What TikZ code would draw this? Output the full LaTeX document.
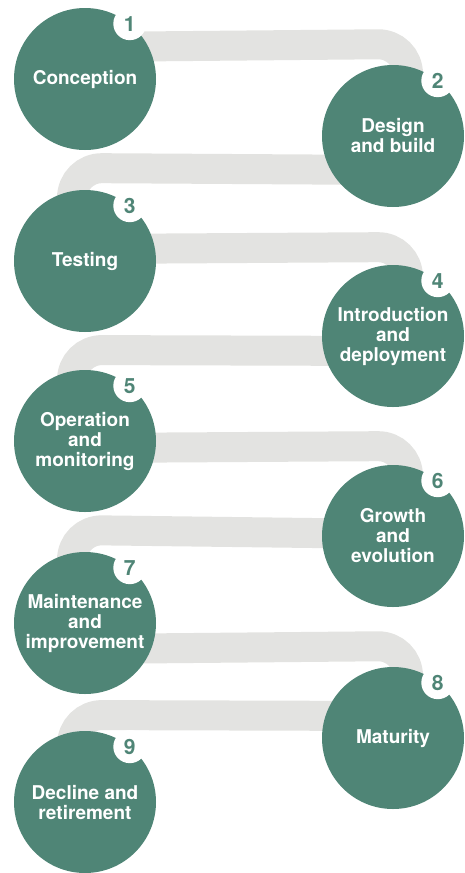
\documentclass[tikz,border=0pt]{standalone}
\usepackage{fontspec}
\setmainfont{TeX Gyre Heros}
\usetikzlibrary{calc,backgrounds}
\definecolor{stagegreen}{RGB}{79,133,118}
\definecolor{ribbongray}{RGB}{227,227,225}
\tikzset{
  stage/.style={circle, fill=stagegreen, minimum size=142pt, inner sep=0pt,
    text=white, align=center, font=\fontsize{19}{20}\selectfont\bfseries},
  badge/.style={circle, fill=white, minimum size=33pt, inner sep=0pt,
    text=stagegreen, font=\fontsize{21}{21}\selectfont\bfseries},
  ribbon/.style={draw=ribbongray, line width=30pt, rounded corners=30pt},
}
\begin{document}
\begin{tikzpicture}[x=1pt,y=-1pt]
\useasboundingbox (0,0) rectangle (465,873);

% life-cycle stages
\node[stage] (c1) at (85,79)   {Conception};
\node[stage] (c2) at (393,136) {Design\\and build};
\node[stage] (c3) at (85,261)  {Testing};
\node[stage] (c4) at (393,336) {Introduction\\and\\deployment};
\node[stage] (c5) at (85,441)  {Operation\\and\\monitoring};
\node[stage] (c6) at (393,536) {Growth\\and\\evolution};
\node[stage] (c7) at (85,623)  {Maintenance\\and\\improvement};
\node[stage] (c8) at (393,738) {Maturity};
\node[stage] (c9) at (85,802)  {Decline and\\retirement};

% step numbers
\foreach \i in {1,...,9}
  \node[badge] (b\i) at (c\i.51) {\i};

% grey ribbons joining consecutive stages
\begin{scope}[on background layer]
  \draw[ribbon] ($(c1)+(0,-32)$) -- ($(c2)+(15,-92)$) -- ($(c2)+(15,0)$);
  \draw[ribbon] ($(c2)+(0,34)$)  -- ($(c3)+(-13,-93)$) -- ($(c3)+(-13,0)$);
  \draw[ribbon] ($(c3)+(0,-12)$) -- ($(c4)+(15,-89)$) -- ($(c4)+(15,0)$);
  \draw[ribbon] ($(c4)+(0,15)$)  -- ($(c5)+(-13,-91)$) -- ($(c5)+(-13,0)$);
  \draw[ribbon] ($(c5)+(0,7)$)   -- ($(c6)+(15,-90)$) -- ($(c6)+(15,0)$);
  \draw[ribbon] ($(c6)+(0,-2)$)  -- ($(c7)+(-13,-93)$) -- ($(c7)+(-13,0)$);
  \draw[ribbon] ($(c7)+(0,26)$)  -- ($(c8)+(15,-92)$) -- ($(c8)+(15,0)$);
  \draw[ribbon] ($(c8)+(0,-22)$) -- ($(c9)+(-13,-87)$) -- ($(c9)+(-13,0)$);
\end{scope}
\end{tikzpicture}
\end{document}
